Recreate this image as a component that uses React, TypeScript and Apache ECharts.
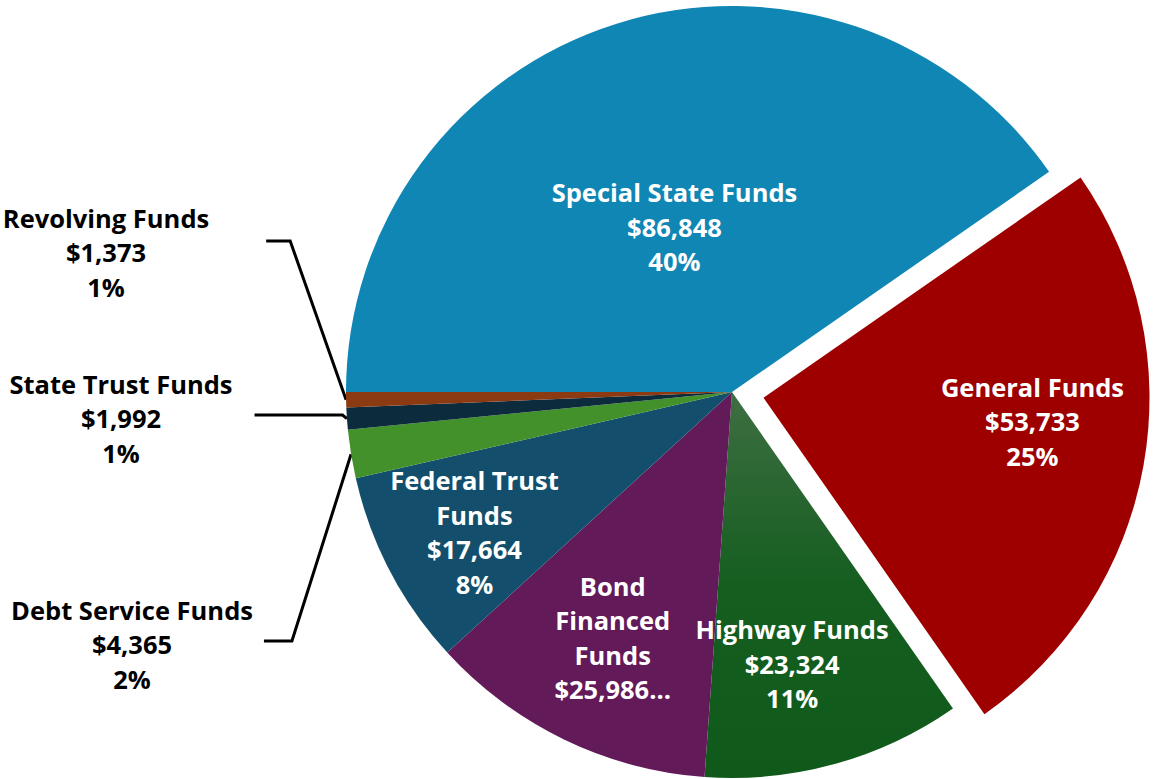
import React, { useEffect, useRef } from "react";
import * as echarts from "echarts";

// ---- data ----
const categories = [
  "Special State Funds",
  "General Funds",
  "Highway Funds",
  "Bond Financed Funds",
  "Federal Trust Funds",
  "Debt Service Funds",
  "State Trust Funds",
  "Revolving Funds",
];
const values = [86848, 53733, 23324, 25986, 17664, 4365, 1992, 1373];
const labelNames = [
  "Special State Funds",
  "General Funds",
  "Highway Funds",
  "Bond\nFinanced\nFunds",
  "Federal Trust\nFunds",
  "Debt Service Funds",
  "State Trust Funds",
  "Revolving Funds",
];
const explodedCategories = ["General Funds"];
const truncatedCategories = ["Bond Financed Funds"];
const outsideCategories = ["Debt Service Funds", "State Trust Funds", "Revolving Funds"];

// ---- styles ----
const colors: any[] = [
  "#1086b4",
  "#9e0000",
  {
    type: "linear",
    x: 0,
    y: 0,
    x2: 0,
    y2: 1,
    colorStops: [
      { offset: 0, color: "#3e6e42" },
      { offset: 0.5, color: "#155e20" },
      { offset: 1, color: "#0f5a1a" },
    ],
  },
  "#631a59",
  "#134f6c",
  "#43912b",
  "#0c2b3d",
  "#8c3a12",
];
// inside label nudges [dx, dy]
const insideOffsets: Record<string, number[]> = {
  "Special State Funds": [1, 22],
  "General Funds": [76, -11],
  "Highway Funds": [8, 83],
  "Bond Financed Funds": [-34, 69],
  "Federal Trust Funds": [-84, 49],
};
// outside label placement: text centre x, leader y, gap, leader length2, top pad
const outsideLayout: Record<string, { cx: number; ly: number; gap: number; len2: number; padTop: number }> = {
  "Revolving Funds": { cx: 106, ly: 241, gap: 57, len2: 24, padTop: 22 },
  "State Trust Funds": { cx: 121, ly: 415, gap: 22, len2: 88, padTop: 6 },
  "Debt Service Funds": { cx: 132, ly: 641, gap: 11, len2: 28, padTop: 6 },
};

const FONT = "'Open Sans', 'Noto Sans', sans-serif";
const FONT_SIZE = 25.5;
const LINE_H = 34.5;

function fmtMoney(v: number) {
  return "$" + v.toLocaleString("en-US");
}

export default function App() {
  const ref = useRef<HTMLDivElement>(null);
  useEffect(() => {
    if (!ref.current) return;
    const chart = echarts.init(ref.current, undefined, { renderer: "svg" });

    const data = categories.map((name, i) => {
      const outside = outsideCategories.includes(name);
      const item: any = {
        name,
        value: values[i],
        selected: explodedCategories.includes(name),
        itemStyle: { color: colors[i] },
      };
      if (outside) {
        const L = outsideLayout[name];
        item.label = {
          position: "outside",
          color: "#000",
          padding: [L.padTop, L.gap, 0, 0],
          backgroundColor: "rgba(0,0,0,0)",
        };
        item.labelLine = {
          show: true,
          length: 10,
          length2: L.len2,
          lineStyle: { color: "#000", width: 3 },
        };
      } else {
        const off = insideOffsets[name] || [0, 0];
        item.label = { position: "inside", color: "#fff", offset: off };
        item.select = { label: { offset: off, color: "#fff" } };
        item.labelLine = { show: false };
      }
      return item;
    });

    const option: any = {
      animation: false,
      backgroundColor: "#ffffff",
      series: [
        {
          type: "pie",
          center: [732, 392],
          radius: [0, 386],
          startAngle: 180,
          clockwise: true,
          selectedMode: "multiple",
          selectedOffset: 32,
          avoidLabelOverlap: false,
          emphasis: { disabled: true },
          itemStyle: { borderWidth: 0 },
          label: {
            show: true,
            fontFamily: FONT,
            fontWeight: "bold",
            fontSize: FONT_SIZE,
            lineHeight: LINE_H,
            align: "center",
            formatter: (p: any) => {
              const idx = p.dataIndex;
              const name = labelNames[idx];
              if (truncatedCategories.includes(categories[idx])) {
                return `${name}\n${fmtMoney(p.value)}...`;
              }
              return `${name}\n${fmtMoney(p.value)}\n${Math.round(p.percent)}%`;
            },
          },
          labelLayout: (params: any) => {
            const name = categories[params.dataIndex];
            const L = outsideLayout[name];
            if (!L) return {};
            return {
              x: L.cx + L.gap / 2,
              y: L.ly - (3 * LINE_H + L.padTop) / 2,
              align: "center",
              verticalAlign: "top",
            };
          },
          data,
        },
      ],
    };
    chart.setOption(option);
    return () => chart.dispose();
  }, []);
  return (
    <div
      ref={ref}
      style={{ position: "absolute", left: 0, top: 0, width: 1153, height: 779 }}
    />
  );
}
